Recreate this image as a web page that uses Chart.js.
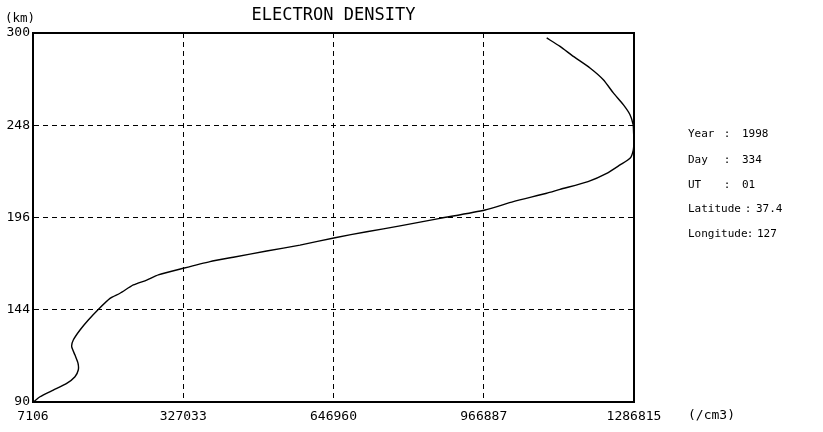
<!DOCTYPE html>
<html>
<head>
<meta charset="utf-8">
<script src="https://cdn.jsdelivr.net/npm/chart.js@4/dist/chart.umd.min.js"></script>
<style>
  html, body { margin: 0; padding: 0; background: #fff; }
  #wrap { width: 823px; height: 432px; position: relative; }
</style>
</head>
<body>
<div id="wrap"><canvas id="c" width="823" height="432"></canvas></div>
<script>
// ---- data ----
const altitude = [90, 93, 96.8, 100.6, 104.4, 108.2, 112, 116.7, 121.5, 125.3, 131, 136.7, 142.7, 149, 151.9, 156.6, 159.4, 162.3, 166.1, 169.9, 172.4, 175.9, 179.3, 183.5, 186.9, 190.2, 194.5, 199.3, 204, 208.8, 211, 215.4, 220.1, 224.9, 228.7, 233.4, 239.1, 243, 247.8, 253.5, 259.2, 265.9, 273.4, 280.1, 286.7, 292.4, 297.2];
const density = [7800, 22000, 50300, 78900, 96500, 103500, 103000, 96500, 89500, 92900, 107200, 124900, 146100, 171100, 192400, 220700, 249200, 273900, 327100, 384000, 433600, 504700, 575600, 650200, 717700, 788600, 873700, 969600, 1029800, 1100900, 1129300, 1188900, 1228700, 1257000, 1278300, 1285300, 1286815, 1286000, 1285000, 1278300, 1264000, 1242800, 1221500, 1193100, 1157600, 1129300, 1100900];

const xTickLabels = ['7106', '327033', '646960', '966887', '1286815'];
const yTickLabels = ['90', '144', '196', '248', '300'];
const xMin = 7106, xMax = 1286815;
const yMin = 90, yMax = 300;

const titleText = 'ELECTRON DENSITY';
const yUnit = '(km)';
const xUnit = '(/cm3)';
const infoRows = [
  ['Year', ':', '1998'],
  ['Day', ':', '334'],
  ['UT', ':', '01'],
  ['Latitude', ':', '37.4'],
  ['Longitude', ':', '127']
];

const points = altitude.map((a, i) => ({ x: density[i], y: a }));
const MONO = '"DejaVu Sans Mono", "Liberation Mono", monospace';

const frameAndText = {
  id: 'frameAndText',
  afterDraw(chart) {
    const { ctx, chartArea: ca } = chart;
    ctx.save();
    ctx.strokeStyle = '#000';
    ctx.lineWidth = 2;
    ctx.setLineDash([]);
    ctx.strokeRect(ca.left, ca.top, ca.right - ca.left, ca.bottom - ca.top);

    ctx.fillStyle = '#000';
    ctx.textBaseline = 'middle';
    // title
    ctx.font = '17px ' + MONO;
    ctx.textAlign = 'center';
    ctx.fillText(titleText, (ca.left + ca.right) / 2, 16);
    // units
    ctx.textAlign = 'left';
    ctx.font = '12.5px ' + MONO;
    ctx.fillText(yUnit, 5, 19);
    ctx.font = '13px ' + MONO;
    ctx.fillText(xUnit, 688, 416);
    // info panel
    ctx.font = '11px ' + MONO;
    const rowY = [134, 160, 185, 209, 234];
    const colonCenter = [727, 727, 727, 748, 750];
    const valX = [742, 742, 742, 756, 757];
    infoRows.forEach((r, i) => {
      ctx.textAlign = 'left';
      ctx.fillText(r[0], 688, rowY[i]);
      ctx.textAlign = 'center';
      ctx.fillText(r[1], colonCenter[i], rowY[i]);
      ctx.textAlign = 'left';
      ctx.fillText(r[2], valX[i], rowY[i]);
    });
    ctx.restore();
  }
};

new Chart(document.getElementById('c'), {
  type: 'scatter',
  data: {
    datasets: [{
      data: points,
      showLine: true,
      borderColor: '#000',
      borderWidth: 1.4,
      pointRadius: 0,
      tension: 0.2,
      fill: false
    }]
  },
  options: {
    responsive: false,
    animation: false,
    devicePixelRatio: 1,
    layout: { padding: { top: 33, right: 189, bottom: 0, left: 0 } },
    plugins: { legend: { display: false }, title: { display: false }, tooltip: { enabled: false } },
    scales: {
      x: {
        type: 'linear',
        min: xMin, max: xMax,
        afterBuildTicks(scale) {
          scale.ticks = xTickLabels.map((t, i) => ({ value: xMin + i * (xMax - xMin) / (xTickLabels.length - 1) }));
        },
        afterFit(scale) { scale.height = 30; },
        ticks: {
          color: '#000',
          font: { family: MONO, size: 13 },
          padding: 7,
          maxRotation: 0,
          autoSkip: false,
          callback: (v, i) => xTickLabels[i]
        },
        grid: { color: '#000', lineWidth: 1, drawTicks: false },
        border: { display: true, color: '#000', width: 2, dash: [5, 4] }
      },
      y: {
        type: 'linear',
        min: yMin, max: yMax,
        afterBuildTicks(scale) {
          scale.ticks = yTickLabels.map((t, i) => ({ value: yMin + i * (yMax - yMin) / (yTickLabels.length - 1) }));
        },
        afterFit(scale) { scale.width = 33; },
        ticks: {
          color: '#000',
          font: { family: MONO, size: 13 },
          padding: 3,
          autoSkip: false,
          callback: (v, i) => yTickLabels[i]
        },
        grid: { color: '#000', lineWidth: 1, drawTicks: false },
        border: { display: true, color: '#000', width: 2, dash: [5, 4] }
      }
    }
  },
  plugins: [frameAndText]
});
</script>
</body>
</html>
